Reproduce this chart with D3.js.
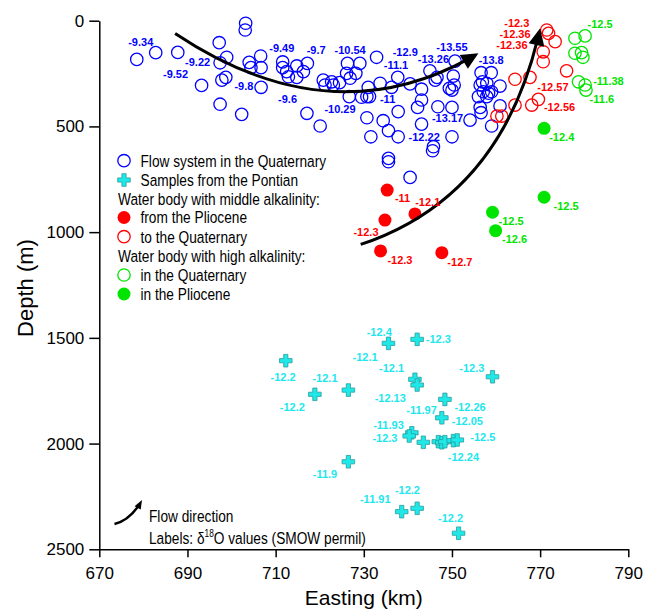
<!DOCTYPE html>
<html lang="en">
<head>
<meta charset="UTF-8">
<title>Depth vs Easting - d18O</title>
<script src="https://cdnjs.cloudflare.com/ajax/libs/d3/7.8.5/d3.min.js"></script>
<style>
    body { margin: 0; background: #fff; font-family: 'Liberation Sans', Arial, sans-serif; }
    .lbl { font-size: 11px; font-weight: bold; }
    .leg { font-size: 16.5px; fill: #000; }
</style>
</head>
<body>
<div id="chart"></div>
<script>
// points are [easting (km), depth (m)]
const quaternaryFlow = [
    [678.5,183],[682.8,151],[687.8,150],[697.2,104],[703.2,12],[703.1,44],[698.9,173],[697.4,199],
    [704.0,197],[706.6,167],[706.7,222],[704.4,222],[698.7,268],[697.8,281],[693.2,306],[706.7,315],
    [697.4,395],[702.3,443],[711.6,195],[711.6,222],[714.8,214],[717.2,202],[712.5,241],[716.3,241],
    [714.8,268],[712.9,265],[717.1,438],[720.1,498],[726.3,202],[729.1,202],[732.9,173],[726.1,249],
    [728.2,249],[726.9,272],[720.8,281],[721.2,304],[722.7,289],[723.1,304],[724.5,293],[731.0,315],
    [733.7,296],[736.3,315],[737.7,268],[740.5,299],[743.1,324],[745.0,237],[746.2,281],[746.6,268],
    [750.3,262],[750.7,191],[750.5,304],[749.4,320],[750.0,328],[726.7,359],[729.5,362],[730.7,359],
    [731.3,359],[743.1,375],[742.2,410],[737.8,430],[746.8,407],[750.0,410],[730.7,459],[734.4,473],
    [735.6,520],[731.6,549],[737.8,549],[743.1,489],[750.0,549],[745.8,596],[745.6,615],[735.6,651],
    [754.1,470],[756.6,246],[758.9,246],[756.9,289],[757.9,296],[756.4,304],[757.1,336],[758.3,343],
    [759.0,336],[760.9,309],[756.0,359],[757.9,359],[756.4,410],[756.6,435],[760.9,403],[759.0,498],
    [735.6,667],[740.5,741]
];
const pontianSamples = [
    [735.6,1526],[742.1,1507],[741.6,1696],[742.1,1723],[759.2,1684],[726.5,1747],[748.4,1791],
    [747.7,1878],[740.9,1949],[740.3,1964],[743.5,1994],[746.9,1991],[747.7,1996],[748.4,1991],
    [750.3,1986],[751.2,1983],[726.5,2086],[738.6,2322],[742.1,2306],[751.5,2424],[712.3,1608],
    [718.9,1767]
];
const midAlkPliocene = [[735.3,801],[734.8,943],[741.6,914],[733.8,1089],[747.7,1097]];
const midAlkQuaternary = [
    [771.5,44],[771.9,60],[773.4,99],[770.7,147],[770.7,194],[776.0,237],[767.7,268],[764.3,277],
    [769.6,372],[768.1,399],[764.3,399],[760.2,451],[761.3,451]
];
const highAlkQuaternary = [
    [777.9,83],[780.2,72],[777.9,154],[779.4,151],[779.7,173],[778.7,289],[780.2,304],[780.4,328]
];
const highAlkPliocene = [[770.9,509],[770.9,835],[759.2,906],[759.9,993]];

// d18O labels: [easting, depth, text]
const blueLabels = [
    [679.4,99,"-9.34"],[687.3,252,"-9.52"],[692.3,194,"-9.22"],[702.8,307,"-9.8"],[711.4,131,"-9.49"],
    [719.2,139,"-9.7"],[712.7,372,"-9.6"],[726.9,139,"-10.54"],[724.6,419,"-10.29"],[739.4,150,"-12.9"],
    [737.3,210,"-11.1"],[735.4,372,"-11"],[750.0,123,"-13.55"],[745.8,181,"-13.26"],[758.9,186,"-13.8"],
    [749.0,462,"-13.17"],[743.7,549,"-12.22"]
];
const redLabels = [
    [764.7,10,"-12.3"],[764.3,63,"-12.36"],[763.6,115,"-12.36"],[772.9,315,"-12.57"],[774.4,407,"-12.56"],
    [738.8,837,"-11"],[744.5,859,"-12.1"],[730.5,999,"-12.3"],[738.2,1132,"-12.3"],[751.8,1140,"-12.7"]
];
const greenLabels = [
    [783.6,16,"-12.5"],[785.5,284,"-11.38"],[784.0,372,"-11.6"],[774.9,549,"-12.4"],[775.9,876,"-12.5"],
    [763.4,947,"-12.5"],[764.2,1034,"-12.6"]
];
const cyanLabels = [
    [733.5,1471,"-12.4"],[746.9,1505,"-12.3"],[730.3,1592,"-12.1"],[736.3,1644,"-12.1"],[754.5,1644,"-12.3"],
    [721.2,1691,"-12.1"],[711.7,1684,"-12.2"],[713.8,1828,"-12.2"],[736.0,1783,"-12.13"],[754.1,1826,"-12.26"],
    [743.1,1841,"-11.97"],[753.5,1892,"-12.05"],[735.6,1912,"-11.93"],[734.8,1975,"-12.3"],[757.0,1968,"-12.5"],
    [752.6,2062,"-12.24"],[721.2,2145,"-11.9"],[732.6,2264,"-11.91"],[739.9,2220,"-12.2"],[749.7,2353,"-12.2"]
];

// flow arrows: start, control, end (quadratic), in easting / depth
const flowArrows = [
    [[687.2,60],[723.1,560],[756.0,154]],
    [[729.3,1058],[761.6,834],[770.0,36]]
];

const xTicks = [670, 690, 710, 730, 750, 770, 790];
const yTicks = [0, 500, 1000, 1500, 2000, 2500];

const W = 648, H = 609;
const svg = d3.select("#chart").append("svg").attr("width", W).attr("height", H);

const x = d3.scaleLinear().domain([670, 790]).range([99.3, 628.3]);
const y = d3.scaleLinear().domain([0, 2500]).range([20.7, 549.3]);

const BLUE = "#0000ff", RED = "#ff0000", GREEN = "#00e400", CYAN = "#1fe8e8";

// axes
const yAxis = svg.append("g").attr("transform", `translate(${x(670)},0)`)
    .call(d3.axisLeft(y).tickValues(yTicks).tickFormat(d3.format("d"))
        .tickSize(10).tickSizeOuter(0).tickPadding(5));
const xAxis = svg.append("g").attr("transform", `translate(0,${y(2500)})`)
    .call(d3.axisBottom(x).tickValues(xTicks).tickFormat(d3.format("d"))
        .tickSize(8).tickSizeOuter(0).tickPadding(10));
[yAxis, xAxis].forEach(a => {
    a.attr("font-family", "'Liberation Sans', Arial, sans-serif").attr("font-size", 17);
    a.selectAll("path, line").attr("stroke", "#000").attr("stroke-width", 1.5);
});

svg.append("text").attr("transform", "translate(25,288) rotate(-90)")
    .attr("text-anchor", "middle").attr("dominant-baseline", "central")
    .attr("font-size", 22).text("Depth (m)");
svg.append("text").attr("x", (x(670) + x(790)) / 2).attr("y", 604.5)
    .attr("text-anchor", "middle").attr("font-size", 21).text("Easting (km)");

const plot = svg.append("g");

function openCircles(data, color) {
    plot.selectAll(null).data(data).join("circle")
        .attr("cx", d => x(d[0])).attr("cy", d => y(d[1])).attr("r", 6.2)
        .attr("fill", "none").attr("stroke", color).attr("stroke-width", 1.3);
}
function dots(data, color) {
    plot.selectAll(null).data(data).join("circle")
        .attr("cx", d => x(d[0])).attr("cy", d => y(d[1])).attr("r", 6.5)
        .attr("fill", color);
}
const cross = d3.symbol().type(d3.symbolCross).size(88);

openCircles(quaternaryFlow, BLUE);
openCircles(midAlkQuaternary, RED);
openCircles(highAlkQuaternary, GREEN);
dots(midAlkPliocene, RED);
dots(highAlkPliocene, GREEN);
plot.selectAll(null).data(pontianSamples).join("path")
    .attr("transform", d => `translate(${x(d[0])},${y(d[1])})`)
    .attr("d", cross).attr("fill", CYAN).attr("stroke", "#2a9d9d").attr("stroke-width", 0.8);

// curved arrow with a filled head
function arrow(g, p0, c, p2, headLen, headW, width) {
    const pt = (t, a, b, e) => (1 - t) * (1 - t) * a + 2 * t * (1 - t) * b + t * t * e;
    let dx = p2[0] - c[0], dy = p2[1] - c[1];
    const n = Math.hypot(dx, dy); dx /= n; dy /= n;
    // cut the line a bit before the tip
    let t0 = 1;
    for (let t = 1; t > 0; t -= 0.002) {
        if (Math.hypot(pt(t, p0[0], c[0], p2[0]) - p2[0], pt(t, p0[1], c[1], p2[1]) - p2[1]) > headLen * 0.6) { t0 = t; break; }
    }
    const c1 = [p0[0] + (c[0] - p0[0]) * t0, p0[1] + (c[1] - p0[1]) * t0];
    const e1 = [pt(t0, p0[0], c[0], p2[0]), pt(t0, p0[1], c[1], p2[1])];
    const p = d3.path();
    p.moveTo(p0[0], p0[1]);
    p.quadraticCurveTo(c1[0], c1[1], e1[0], e1[1]);
    g.append("path").attr("d", p.toString()).attr("fill", "none")
        .attr("stroke", "#000").attr("stroke-width", width);
    const bx = p2[0] - dx * headLen, by = p2[1] - dy * headLen;
    const hw = headW / 2;
    g.append("path")
        .attr("d", `M${p2[0]},${p2[1]}L${bx - dy * hw},${by + dx * hw}L${bx + dy * hw},${by - dx * hw}Z`)
        .attr("fill", "#000");
}
flowArrows.forEach(a => {
    const pts = a.map(d => [x(d[0]), y(d[1])]);
    arrow(plot, pts[0], pts[1], pts[2], 17, 16, 3);
});

function labels(rows, color) {
    plot.selectAll(null).data(rows).join("text")
        .attr("class", "lbl")
        .attr("x", d => x(d[0])).attr("y", d => y(d[1]))
        .attr("text-anchor", "middle").attr("dominant-baseline", "central")
        .attr("fill", color).text(d => d[2]);
}
labels(blueLabels, BLUE);
labels(redLabels, RED);
labels(greenLabels, GREEN);
labels(cyanLabels, "#22e6ee");

// legend
const leg = svg.append("g");
const legRows = [
    { y: 160.7, text: "Flow system in the Quaternary", mark: "open", color: BLUE },
    { y: 180, text: "Samples from the Pontian", mark: "cross", color: CYAN },
    { y: 199, text: "Water body with middle alkalinity:", mark: null },
    { y: 217.5, text: "from the Pliocene", mark: "dot", color: RED },
    { y: 236.7, text: "to the Quaternary", mark: "open", color: RED },
    { y: 256, text: "Water body with high alkalinity:", mark: null },
    { y: 275, text: "in the Quaternary", mark: "open", color: GREEN },
    { y: 294, text: "in the Pliocene", mark: "dot", color: GREEN }
];
legRows.forEach(r => {
    if (r.mark === "open") {
        leg.append("circle").attr("cx", 124).attr("cy", r.y).attr("r", 6.2)
            .attr("fill", "none").attr("stroke", r.color).attr("stroke-width", 1.3);
    } else if (r.mark === "dot") {
        leg.append("circle").attr("cx", 124).attr("cy", r.y).attr("r", 6.5).attr("fill", r.color);
    } else if (r.mark === "cross") {
        leg.append("path").attr("transform", `translate(124,${r.y})`).attr("d", cross)
            .attr("fill", r.color).attr("stroke", "#2a9d9d").attr("stroke-width", 0.8);
    }
    const tx = r.mark ? 140.5 : 118;
    leg.append("text").attr("class", "leg")
        .attr("transform", `translate(${tx},${r.y}) scale(0.83,1)`)
        .attr("dominant-baseline", "central").text(r.text);
});

arrow(leg, [114.5, 524], [131, 520], [142, 500], 9, 7, 2.5);
leg.append("text").attr("class", "leg")
    .attr("transform", "translate(149,516) scale(0.83,1)")
    .attr("dominant-baseline", "central").text("Flow direction");
const lab = leg.append("text").attr("class", "leg")
    .attr("transform", "translate(149,544) scale(0.83,1)");
lab.append("tspan").text("Labels: δ");
lab.append("tspan").attr("font-size", 10).attr("dy", -7).text("18");
lab.append("tspan").attr("dy", 7).text("O values (SMOW permil)");
</script>
</body>
</html>
